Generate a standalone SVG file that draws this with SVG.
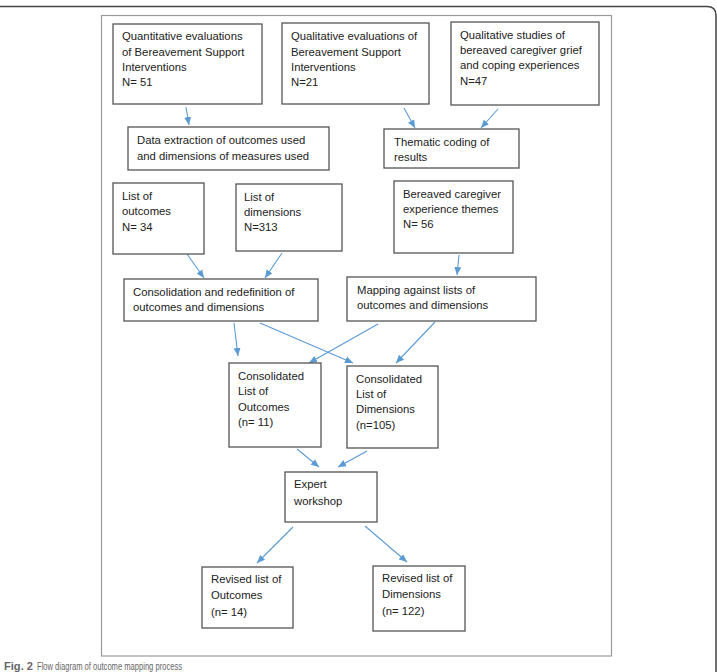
<svg xmlns="http://www.w3.org/2000/svg" width="717" height="672" viewBox="0 0 717 672">
<style>
.box{fill:#fff;stroke:#555;stroke-width:1.3}
.t{font-family:"Liberation Sans",Arial,sans-serif;font-size:11.3px;fill:#222}
.c{stroke:#5b9bd5;stroke-width:1.1;fill:none;marker-end:url(#ah)}
.cap{font-family:"Liberation Sans",Arial,sans-serif;font-size:10px;fill:#666}
</style>
<defs>
<marker id="ah" markerUnits="userSpaceOnUse" markerWidth="8" markerHeight="8" viewBox="0 0 8 8" refX="8" refY="4" orient="auto">
<path d="M0,0.5 L8,4 L0,7.5 Z" fill="#5b9bd5"/>
</marker>
</defs>
<rect width="717" height="672" fill="#fff"/>
<path d="M-2 6.5 H707 Q716 6.5 716 15.5 V674" fill="none" stroke="#444" stroke-width="1.5"/>
<rect x="101.5" y="15.5" width="510" height="640.5" fill="none" stroke="#9a9a9a" stroke-width="1.2"/>

<g id="connectors">
<line class="c" x1="186" y1="107" x2="189" y2="125"/>
<line class="c" x1="404" y1="108" x2="415" y2="128"/>
<line class="c" x1="498" y1="109" x2="481" y2="128"/>
<line class="c" x1="187" y1="254" x2="204" y2="278"/>
<line class="c" x1="282" y1="253" x2="265" y2="278"/>
<line class="c" x1="459" y1="255" x2="457" y2="275"/>
<line class="c" x1="234" y1="323" x2="238" y2="356"/>
<line class="c" x1="260" y1="323" x2="353" y2="363"/>
<line class="c" x1="378" y1="324" x2="309" y2="363"/>
<line class="c" x1="435" y1="322" x2="396" y2="363"/>
<line class="c" x1="297" y1="449" x2="319" y2="467"/>
<line class="c" x1="367" y1="451" x2="338" y2="467"/>
<line class="c" x1="293" y1="527" x2="257" y2="563"/>
<line class="c" x1="365" y1="526" x2="407" y2="562"/>
</g>

<g id="quant">
<rect class="box" x="113" y="24" width="149" height="80"/>
<text class="t" x="122" y="40">Quantitative evaluations</text>
<text class="t" x="122" y="56">of Bereavement Support</text>
<text class="t" x="122" y="71">Interventions</text>
<text class="t" x="122" y="86">N= 51</text>
</g>
<g id="qualeval">
<rect class="box" x="282" y="23" width="147" height="81"/>
<text class="t" x="291" y="40">Qualitative evaluations of</text>
<text class="t" x="291" y="56">Bereavement Support</text>
<text class="t" x="291" y="71">Interventions</text>
<text class="t" x="291" y="86">N=21</text>
</g>
<g id="qualstudies">
<rect class="box" x="451" y="22" width="148" height="83"/>
<text class="t" x="460" y="39">Qualitative studies of</text>
<text class="t" x="460" y="54">bereaved caregiver grief</text>
<text class="t" x="460" y="69">and coping experiences</text>
<text class="t" x="460" y="85">N=47</text>
</g>
<g id="dataextraction">
<rect class="box" x="128" y="127" width="201" height="43"/>
<text class="t" x="137" y="144">Data extraction of outcomes used</text>
<text class="t" x="137" y="160">and dimensions of measures used</text>
</g>
<g id="thematic">
<rect class="box" x="384" y="129" width="135" height="39"/>
<text class="t" x="394" y="146">Thematic coding of</text>
<text class="t" x="394" y="161">results</text>
</g>
<g id="listoutcomes">
<rect class="box" x="113" y="183" width="91" height="71"/>
<text class="t" x="122" y="200">List of</text>
<text class="t" x="122" y="215">outcomes</text>
<text class="t" x="122" y="231">N= 34</text>
</g>
<g id="listdimensions">
<rect class="box" x="236" y="184" width="106" height="67"/>
<text class="t" x="244" y="201">List of</text>
<text class="t" x="244" y="216">dimensions</text>
<text class="t" x="244" y="231">N=313</text>
</g>
<g id="themes">
<rect class="box" x="394" y="181" width="119" height="72"/>
<text class="t" x="403" y="198">Bereaved caregiver</text>
<text class="t" x="403" y="213">experience themes</text>
<text class="t" x="403" y="228">N= 56</text>
</g>
<g id="consolidation">
<rect class="box" x="124" y="279" width="194" height="42"/>
<text class="t" x="133" y="296">Consolidation and redefinition of</text>
<text class="t" x="133" y="311">outcomes and dimensions</text>
</g>
<g id="mapping">
<rect class="box" x="347" y="277" width="189" height="44"/>
<text class="t" x="357" y="294">Mapping against lists of</text>
<text class="t" x="357" y="309">outcomes and dimensions</text>
</g>
<g id="consoutcomes">
<rect class="box" x="229" y="363" width="92" height="84"/>
<text class="t" x="238" y="380">Consolidated</text>
<text class="t" x="238" y="395">List of</text>
<text class="t" x="238" y="411">Outcomes</text>
<text class="t" x="238" y="426">(n= 11)</text>
</g>
<g id="consdimensions">
<rect class="box" x="347" y="366" width="91" height="82"/>
<text class="t" x="356" y="383">Consolidated</text>
<text class="t" x="356" y="398">List of</text>
<text class="t" x="356" y="413">Dimensions</text>
<text class="t" x="356" y="429">(n=105)</text>
</g>
<g id="workshop">
<rect class="box" x="285" y="472" width="92" height="50"/>
<text class="t" x="294" y="488">Expert</text>
<text class="t" x="294" y="505">workshop</text>
</g>
<g id="revoutcomes">
<rect class="box" x="202" y="567" width="91" height="61"/>
<text class="t" x="211" y="583">Revised list of</text>
<text class="t" x="211" y="599">Outcomes</text>
<text class="t" x="211" y="616">(n= 14)</text>
</g>
<g id="revdimensions">
<rect class="box" x="373" y="566" width="92" height="65"/>
<text class="t" x="382" y="582">Revised list of</text>
<text class="t" x="382" y="598">Dimensions</text>
<text class="t" x="382" y="615">(n= 122)</text>
</g>

<text class="cap" x="4" y="670" font-weight="bold" fill="#222" textLength="29" lengthAdjust="spacingAndGlyphs">Fig. 2</text>
<text class="cap" x="37" y="670" textLength="145" lengthAdjust="spacingAndGlyphs">Flow diagram of outcome mapping process</text>
</svg>
